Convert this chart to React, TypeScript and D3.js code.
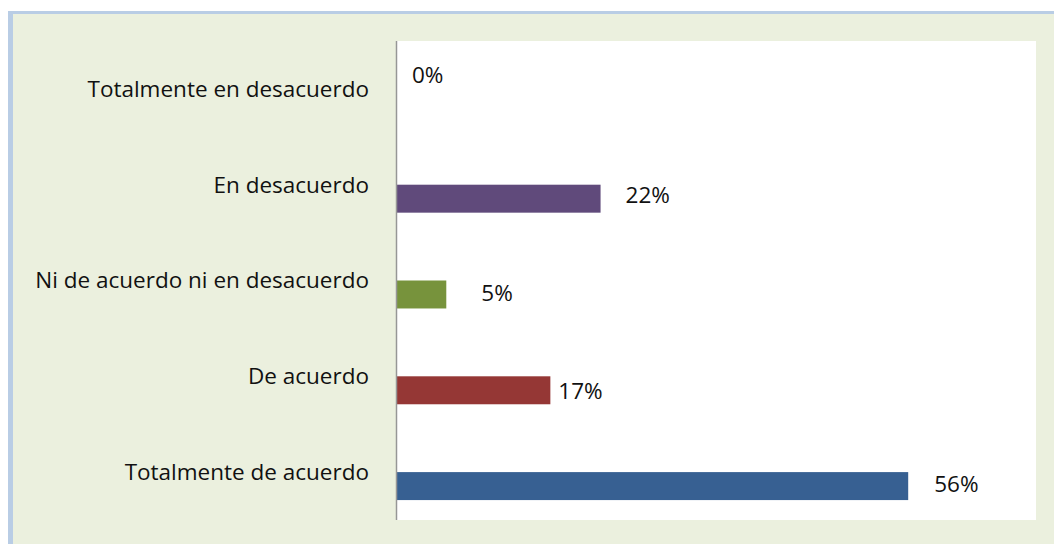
import { useEffect, useRef } from 'react';
import * as d3 from 'd3';

// categories, top to bottom as in the chart
const categories = [
  'Totalmente en desacuerdo',
  'En desacuerdo',
  'Ni de acuerdo ni en desacuerdo',
  'De acuerdo',
  'Totalmente de acuerdo',
];
const values = [0, 0.223, 0.054, 0.168, 0.56];
const barColors = ['#31859C', '#604A7B', '#77933C', '#953735', '#376092'];
const xMax = 0.7;

// hand nudges for the data labels (Excel had them dragged around a bit)
const labelDx = [15, 25, 35, 8, 26];
const labelDy = [-28, -4, -1, 1, -2];

const FONT = '"Open Sans", sans-serif';
const FONT_SIZE = 22.5;

const App = () => {
  const svgRef = useRef<SVGSVGElement | null>(null);

  useEffect(() => {
    const width = 1054;
    const height = 544;
    const plot = { left: 397, right: 1036, top: 41, bottom: 520 };

    const svg = d3.select(svgRef.current).attr('width', width).attr('height', height);
    svg.selectAll('*').remove();

    // chart frame
    svg.append('rect')
      .attr('x', 8).attr('y', 11)
      .attr('width', width).attr('height', height)
      .attr('fill', '#EBF0DE');
    svg.append('rect')
      .attr('x', 8).attr('y', 11)
      .attr('width', width).attr('height', 3)
      .attr('fill', '#B9CDE5');
    svg.append('rect')
      .attr('x', 8).attr('y', 11)
      .attr('width', 5).attr('height', height)
      .attr('fill', '#B9CDE5');

    // plot area
    svg.append('rect')
      .attr('x', plot.left).attr('y', plot.top)
      .attr('width', plot.right - plot.left).attr('height', plot.bottom - plot.top)
      .attr('fill', '#ffffff');

    const x = d3.scaleLinear().domain([0, xMax]).range([plot.left, plot.right]);
    const y = d3.scaleBand<string>().domain(categories).range([plot.top, plot.bottom]);
    const bw = y.bandwidth();
    const barH = bw * 0.292;

    const data = categories.map((c, i) => ({ c, v: values[i], color: barColors[i], i }));

    // bars sit in the lower half of each band
    svg.append('g')
      .selectAll('rect')
      .data(data)
      .enter()
      .append('rect')
      .attr('x', x(0))
      .attr('y', d => (y(d.c) ?? 0) + bw / 2)
      .attr('width', d => x(d.v) - x(0))
      .attr('height', barH)
      .attr('fill', d => d.color);

    // category axis
    svg.append('line')
      .attr('x1', plot.left - 0.5).attr('x2', plot.left - 0.5)
      .attr('y1', plot.top).attr('y2', plot.bottom)
      .attr('stroke', '#969696')
      .attr('stroke-width', 1.5);

    svg.append('g')
      .selectAll('text')
      .data(data)
      .enter()
      .append('text')
      .attr('x', plot.left - 28)
      .attr('y', d => (y(d.c) ?? 0) + bw / 2)
      .attr('dy', '0.35em')
      .attr('text-anchor', 'end')
      .attr('font-family', FONT)
      .attr('font-size', FONT_SIZE)
      .attr('fill', '#111')
      .text(d => d.c);

    // data labels
    svg.append('g')
      .selectAll('text')
      .data(data)
      .enter()
      .append('text')
      .attr('x', d => x(d.v) + labelDx[d.i])
      .attr('y', d => (y(d.c) ?? 0) + bw / 2 + barH / 2 + labelDy[d.i])
      .attr('dy', '0.35em')
      .attr('font-family', FONT)
      .attr('font-size', FONT_SIZE)
      .attr('fill', '#111')
      .text(d => d3.format('.0%')(d.v));
  }, []);

  return (
    <svg ref={svgRef} style={{ position: 'absolute', left: 0, top: 0, display: 'block' }}></svg>
  );
};

export default App;
